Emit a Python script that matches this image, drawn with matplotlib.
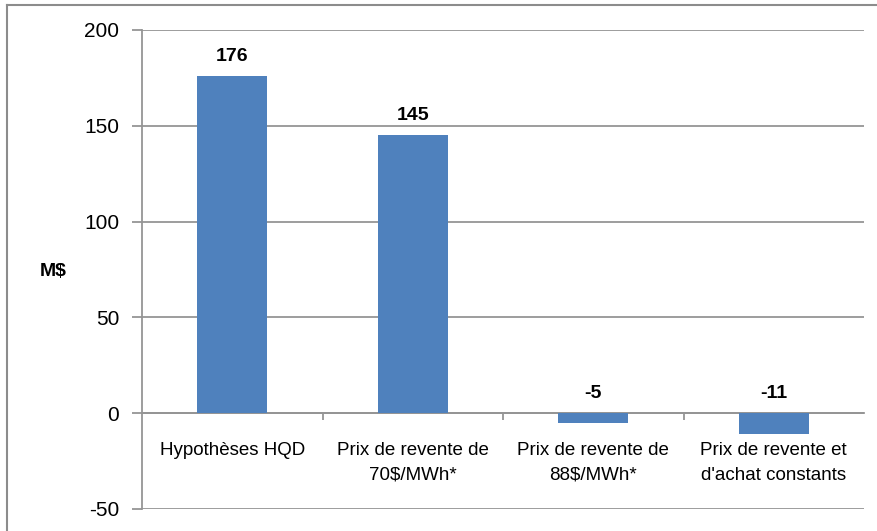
import matplotlib
matplotlib.use("Agg")
import matplotlib.pyplot as plt
from matplotlib.lines import Line2D

plt.rcParams['font.family'] = ['Liberation Sans', 'DejaVu Sans']

categories = ["Hypothèses HQD", "Prix de revente de\n70$/MWh*", "Prix de revente de\n88$/MWh*", "Prix de revente et\nd'achat constants"]
values = [176, 145, -5, -11]
value_labels = ["176", "145", "-5", "-11"]
yticks = [-50, 0, 50, 100, 150, 200]

fig = plt.figure(figsize=(8.77, 5.31), dpi=100)
ax = fig.add_axes([142/877, 22/531, (864-142)/877, (509-30)/531])

grid_c = '#959595'
bar_c = '#4F81BD'

x = list(range(len(categories)))
ax.bar(x, values, width=0.39, color=bar_c, zorder=3)

ax.set_xlim(-0.5, len(categories) - 0.5)
ax.set_ylim(-50, 200)
ax.set_yticks(yticks)
ax.set_yticklabels([str(t) for t in yticks], fontsize=15)
for t in yticks:
    ax.axhline(t, color=grid_c, lw=1.3, zorder=1)

for s in ['top', 'right']:
    ax.spines[s].set_visible(False)
ax.spines['left'].set_color(grid_c)
ax.spines['left'].set_linewidth(1.3)
ax.spines['bottom'].set_position(('data', 0))
ax.spines['bottom'].set_color(grid_c)
ax.spines['bottom'].set_linewidth(1.3)
ax.tick_params(axis='y', length=7, color=grid_c, width=1.3, pad=9.5)

ax.set_xticks(x)
ax.set_xticklabels(categories, fontsize=13.5, linespacing=1.55)
ax.tick_params(axis='x', which='major', length=0, pad=21)
ax.set_xticks([i + 0.5 for i in range(len(categories) - 1)], minor=True)
ax.tick_params(axis='x', which='minor', length=5, color=grid_c, width=1.3, direction='out')

for xi, v, lab in zip(x, values, value_labels):
    ax.annotate(lab, xy=(xi, max(v, 0)), xytext=(0, 8), textcoords='offset points',
                ha='center', va='bottom', fontsize=14, fontweight='bold', zorder=4)

fig.text(53/877, 1 - 271/531, "M$", fontsize=14, fontweight='bold', ha='center', va='center')

# outer chart border
bc = '#8c8c8c'
fig.add_artist(Line2D([7/877, 7/877], [0, 1 - 5/531], transform=fig.transFigure, color=bc, lw=1.5))
fig.add_artist(Line2D([7/877, 1], [1 - 5/531, 1 - 5/531], transform=fig.transFigure, color=bc, lw=1.5))

fig.savefig("out.png", dpi=100)
